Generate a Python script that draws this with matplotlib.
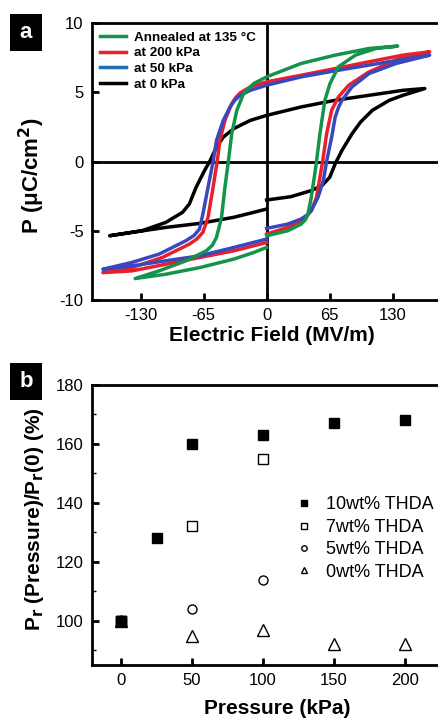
import matplotlib
matplotlib.use('Agg')
import matplotlib.pyplot as plt
from matplotlib.patches import Rectangle
from matplotlib.ticker import MultipleLocator

plt.rcParams['font.family'] = ['Liberation Sans', 'DejaVu Sans']
plt.rcParams['axes.unicode_minus'] = False

# --- panel a: P-E loops (field in MV/m, P in uC/cm2), traced from E=0 lower branch -> +Emax -> -Emax -> E=0
E_0kPa = [0, 25, 46, 57, 65, 70.6, 77.6, 88, 96.8, 109, 126.5, 140.5, 163,
          140.5, 105.5, 70.6, 35.6, 0, -16.8, -34, -44.7, -51.7, -58.7, -64, -72.7, -79.7, -86.7, -104, -128.6, -161.8,
          -139, -104, -69, -34, -13.3, 0]
P_0kPa = [-2.78, -2.54, -2.1, -1.74, -1.14, -0.17, 0.8, 2.0, 2.85, 3.7, 4.42, 4.78, 5.27,
          5.14, 4.78, 4.42, 3.94, 3.33, 2.97, 2.37, 1.76, 1.04, 0, -0.65, -1.86, -3.07, -3.67, -4.4, -5.0, -5.36,
          -5.12, -4.76, -4.47, -4.03, -3.67, -3.43]

E_50kPa = [0, 21.7, 35.6, 42, 46, 53, 58.4, 61.8, 67, 70.6, 74, 77.6, 88, 105.5, 133.5, 168,
           140.5, 105.5, 70.6, 35.6, 0, -16.8, -27.3, -33, -37.7, -44.7, -51.7, -55.2, -60.4, -65.7, -69.2, -75, -83.2, -111, -139, -168.8,
           -139, -104, -69, -34, 0]
P_50kPa = [-4.83, -4.52, -4.15, -3.85, -3.55, -2.58, -1.38, 0, 1.76, 3.2, 3.9, 4.42, 5.39, 6.35, 7.08, 7.68,
           7.37, 6.96, 6.55, 6.11, 5.51, 5.14, 4.78, 4.4, 3.94, 2.97, 1.52, 0, -1.86, -3.79, -4.88, -5.35, -5.72, -6.69, -7.29, -7.78,
           -7.54, -7.17, -6.81, -6.21, -5.6]

E_200kPa = [0, 21.7, 35.6, 41, 46, 51.4, 54.9, 57.7, 61.8, 67, 74, 84.6, 105.5, 133.5, 168,
            140.5, 105.5, 70.6, 35.6, 0, -16.8, -27.3, -32, -36, -43, -48.2, -51, -55.2, -60.4, -65.7, -72, -79.7, -107.6, -139, -168.8,
            -139, -104, -69, -34, 0]
P_200kPa = [-5.24, -4.76, -4.28, -3.95, -3.55, -2.58, -1.14, 0, 2.0, 3.7, 4.66, 5.51, 6.47, 7.32, 7.92,
            7.68, 7.2, 6.71, 6.23, 5.75, 5.39, 4.95, 4.6, 4.18, 2.97, 1.52, 0, -1.86, -4.03, -5.12, -5.6, -5.97, -6.93, -7.66, -8.02,
            -7.9, -7.42, -6.93, -6.45, -5.85]

E_ann = [0, 21.7, 35.6, 40, 42.6, 46, 49.6, 51.4, 54.9, 60, 65.3, 74, 91.5, 112.5, 135,
         105.5, 70.6, 35.6, 0, -13.3, -23.8, -30.7, -36, -39.5, -43, -46.5, -51.7, -56, -62.2, -83.2, -111, -135.5,
         -104, -69, -34, -13.3, 0]
P_ann = [-5.36, -5.0, -4.52, -4.2, -3.79, -2.58, -0.9, 0, 2.0, 4.42, 5.63, 6.84, 7.68, 8.16, 8.33,
         8.16, 7.68, 7.08, 6.11, 5.63, 4.9, 3.7, 2.0, 0, -1.86, -4.03, -5.48, -6.05, -6.45, -7.17, -7.9, -8.45,
         -8.14, -7.66, -7.05, -6.57, -6.2]

# --- panel b: remanent polarization ratio vs pressure
p_10 = [0, 25, 50, 100, 150, 200]
r_10 = [100, 128, 160, 163, 167, 168]
p_7 = [0, 50, 100]
r_7 = [100, 132, 155]
p_5 = [0, 50, 100]
r_5 = [100, 104, 114]
p_0 = [0, 50, 100, 150, 200]
r_0 = [100, 95, 97, 92, 92]

fig = plt.figure(figsize=(4.38, 7.19), dpi=100)

# panel a
ax1 = fig.add_axes([92/438, (719-300)/719, 359/438, 277/719])
ax1.axhline(0, color='black', lw=2, zorder=1)
ax1.axvline(0, color='black', lw=2, zorder=1)
ax1.plot(E_0kPa, P_0kPa, color='black', lw=2.5, label='at 0 kPa', zorder=2)
ax1.plot(E_200kPa, P_200kPa, color='#e8202a', lw=2.5, label='at 200 kPa', zorder=3)
ax1.plot(E_50kPa, P_50kPa, color='#3a48c0', lw=2.5, label='at 50 kPa', zorder=4)
ax1.plot(E_ann, P_ann, color='#14934a', lw=2.5, label='Annealed at 135 °C', zorder=5)
ax1.set_xlim(-180, 190)
ax1.set_ylim(-10, 10)
ax1.set_xticks([-130, -65, 0, 65, 130])
ax1.set_yticks([-10, -5, 0, 5, 10])
ax1.tick_params(direction='in', length=5, width=2, labelsize=12, pad=6)
for s in ax1.spines.values():
    s.set_linewidth(2)
ax1.set_xlabel('Electric Field (MV/m)', fontsize=15, fontweight='bold', labelpad=2)
ax1.set_ylabel('P (\u03bcC/cm$^\\mathbf{2}$)', fontsize=16, fontweight='bold', labelpad=9)
ax1.yaxis.label.set_y(0.45)
h, l = ax1.get_legend_handles_labels()
order = [3, 1, 2, 0]
leg1 = ax1.legend([h[i] for i in order], [l[i] for i in order], loc='upper left', frameon=False,
                  prop={'weight': 'bold', 'size': 9.7}, handlelength=1.9, labelspacing=0.25,
                  borderaxespad=0.3, handletextpad=0.6, borderpad=0.3)
leg1.get_lines()[2].set_color('#1f6fb5')

# panel b
ax2 = fig.add_axes([92/438, (719-665)/719, 370/438, 280/719])
ax2.plot(p_10, r_10, 's', color='black', ms=6.5, label='10wt% THDA')
ax2.plot(p_7, r_7, 's', mfc='white', mec='black', mew=1, ms=6.5, label='7wt% THDA')
ax2.plot(p_5, r_5, 'o', mfc='white', mec='black', mew=1, ms=6.5, label='5wt% THDA')
ax2.plot(p_0, r_0, '^', mfc='white', mec='black', mew=1, ms=8, label='0wt% THDA')
ax2.plot(p_10[:1], r_10[:1], 's', color='black', ms=6.5)
ax2.set_xlim(-20.4, 240)
ax2.set_ylim(85, 180)
ax2.set_xticks([0, 50, 100, 150, 200])
ax2.set_yticks([100, 120, 140, 160, 180])
ax2.yaxis.set_minor_locator(MultipleLocator(10))
ax2.tick_params(direction='in', length=5, width=2, labelsize=12, pad=6)
ax2.tick_params(which='minor', direction='in', length=3, width=1)
for s in ax2.spines.values():
    s.set_linewidth(2)
ax2.set_xlabel('Pressure (kPa)', fontsize=15, fontweight='bold', labelpad=8)
ax2.set_ylabel('P$_\\mathbf{r}$ (Pressure)/P$_\\mathbf{r}$(0) (%)', fontsize=15, fontweight='bold', labelpad=7)
ax2.yaxis.label.set_y(0.52)
ax2.legend(loc='upper left', bbox_to_anchor=(0.5, 0.66), frameon=False, fontsize=13,
           markerscale=0.6, handlelength=1.2, labelspacing=0.3, handletextpad=0.6)

# panel letters
for lab, ytop in (('a', 14), ('b', 363)):
    fig.patches.append(Rectangle((10/438, (719-ytop-37)/719), 32/438, 37/719,
                                 transform=fig.transFigure, facecolor='black', edgecolor='none'))
    fig.text(26/438, (719-ytop-18.5)/719, lab, color='white', fontsize=16, fontweight='bold',
             ha='center', va='center')

fig.savefig('out.png', dpi=100)
